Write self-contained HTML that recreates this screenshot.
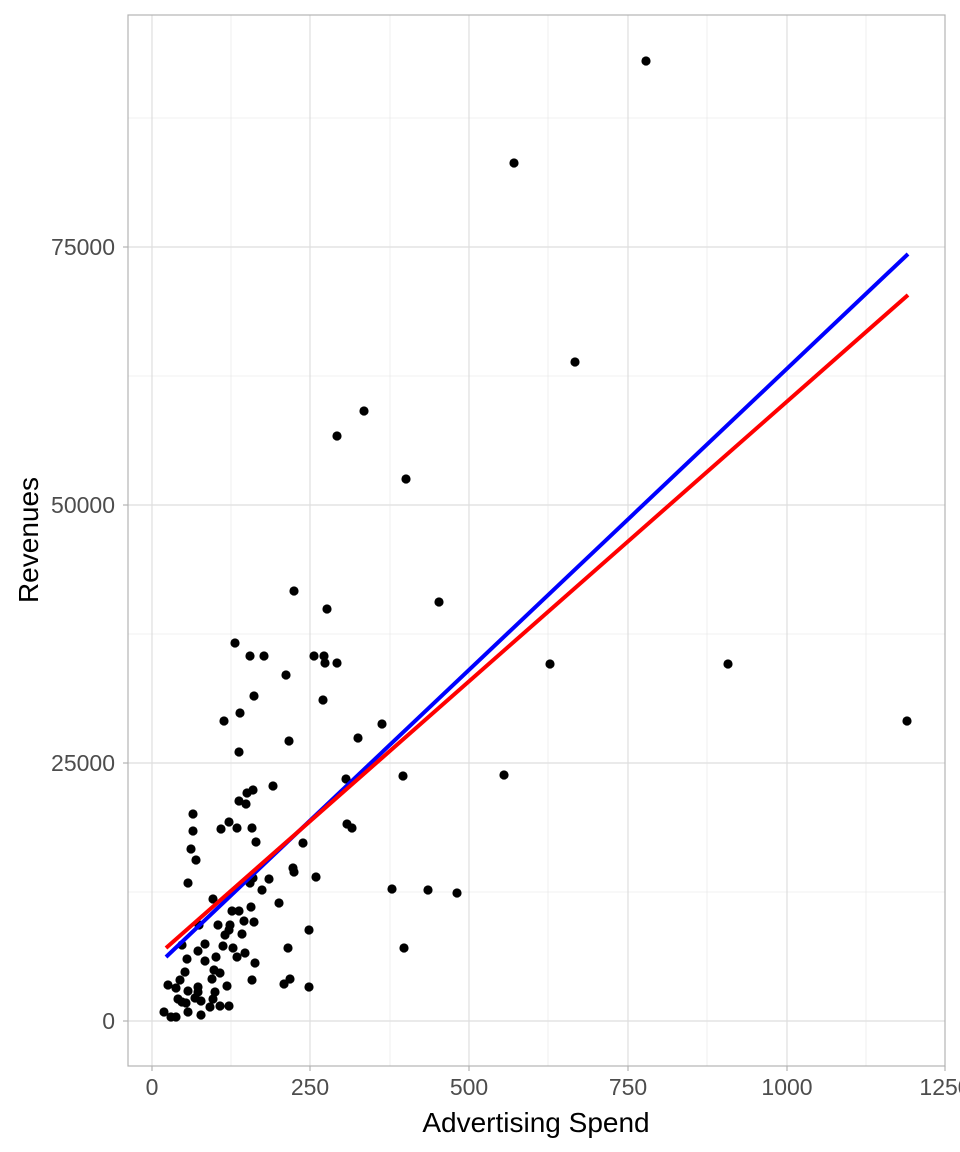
<!DOCTYPE html>
<html><head><style>body{margin:0;background:#fff}svg{display:block}</style></head><body>
<svg width="960" height="1152" xmlns="http://www.w3.org/2000/svg" font-family="Liberation Sans, sans-serif">
<g stroke="#ebebeb" stroke-width="0.8">
<line x1="231" y1="15" x2="231" y2="1066"/><line x1="390" y1="15" x2="390" y2="1066"/><line x1="548" y1="15" x2="548" y2="1066"/><line x1="707" y1="15" x2="707" y2="1066"/><line x1="866" y1="15" x2="866" y2="1066"/>
<line x1="128" y1="892" x2="945" y2="892"/><line x1="128" y1="634" x2="945" y2="634"/><line x1="128" y1="376" x2="945" y2="376"/><line x1="128" y1="118" x2="945" y2="118"/>
</g>
<g stroke="#dedede" stroke-width="1.2">
<line x1="152" y1="15" x2="152" y2="1066"/><line x1="310" y1="15" x2="310" y2="1066"/><line x1="469" y1="15" x2="469" y2="1066"/><line x1="628" y1="15" x2="628" y2="1066"/><line x1="787" y1="15" x2="787" y2="1066"/>
<line x1="128" y1="1021" x2="945" y2="1021"/><line x1="128" y1="763" x2="945" y2="763"/><line x1="128" y1="505" x2="945" y2="505"/><line x1="128" y1="247" x2="945" y2="247"/>
</g>
<rect x="128" y="15" width="817" height="1051" fill="none" stroke="#b3b3b3" stroke-width="1.2"/>
<g stroke="#b3b3b3" stroke-width="1.2">
<line x1="152" y1="1066" x2="152" y2="1071"/><line x1="310" y1="1066" x2="310" y2="1071"/><line x1="469" y1="1066" x2="469" y2="1071"/><line x1="628" y1="1066" x2="628" y2="1071"/><line x1="787" y1="1066" x2="787" y2="1071"/><line x1="945" y1="1066" x2="945" y2="1071"/>
<line x1="123" y1="1021" x2="128" y2="1021"/><line x1="123" y1="763" x2="128" y2="763"/><line x1="123" y1="505" x2="128" y2="505"/><line x1="123" y1="247" x2="128" y2="247"/>
</g>
<g fill="#000">
<circle cx="646" cy="61" r="4.6"/><circle cx="514" cy="163" r="4.6"/><circle cx="575" cy="362" r="4.6"/><circle cx="364" cy="411" r="4.6"/><circle cx="337" cy="436" r="4.6"/><circle cx="406" cy="479" r="4.6"/><circle cx="439" cy="602" r="4.6"/><circle cx="327" cy="609" r="4.6"/><circle cx="294" cy="591" r="4.6"/><circle cx="550" cy="664" r="4.6"/><circle cx="728" cy="664" r="4.6"/><circle cx="907" cy="721" r="4.6"/><circle cx="504" cy="775" r="4.6"/><circle cx="403" cy="776" r="4.6"/><circle cx="382" cy="724" r="4.6"/><circle cx="392" cy="889" r="4.6"/><circle cx="428" cy="890" r="4.6"/><circle cx="457" cy="893" r="4.6"/><circle cx="404" cy="948" r="4.6"/><circle cx="337" cy="663" r="4.6"/>
<circle cx="235" cy="643" r="4.6"/><circle cx="250" cy="656" r="4.6"/><circle cx="264" cy="656" r="4.6"/><circle cx="314" cy="656" r="4.6"/><circle cx="324" cy="656" r="4.6"/><circle cx="325" cy="663" r="4.6"/><circle cx="286" cy="675" r="4.6"/><circle cx="254" cy="696" r="4.6"/><circle cx="323" cy="700" r="4.6"/><circle cx="240" cy="713" r="4.6"/><circle cx="224" cy="721" r="4.6"/><circle cx="289" cy="741" r="4.6"/><circle cx="358" cy="738" r="4.6"/><circle cx="239" cy="752" r="4.6"/><circle cx="273" cy="786" r="4.6"/><circle cx="253" cy="790" r="4.6"/><circle cx="247" cy="793" r="4.6"/><circle cx="239" cy="801" r="4.6"/><circle cx="246" cy="804" r="4.6"/><circle cx="193" cy="814" r="4.6"/><circle cx="229" cy="822" r="4.6"/><circle cx="221" cy="829" r="4.6"/><circle cx="237" cy="828" r="4.6"/><circle cx="252" cy="828" r="4.6"/><circle cx="193" cy="831" r="4.6"/><circle cx="256" cy="842" r="4.6"/><circle cx="191" cy="849" r="4.6"/><circle cx="303" cy="843" r="4.6"/><circle cx="196" cy="860" r="4.6"/><circle cx="293" cy="868" r="4.6"/><circle cx="294" cy="872" r="4.6"/><circle cx="269" cy="879" r="4.6"/><circle cx="253" cy="878" r="4.6"/><circle cx="250" cy="883" r="4.6"/><circle cx="188" cy="883" r="4.6"/><circle cx="316" cy="877" r="4.6"/><circle cx="262" cy="890" r="4.6"/><circle cx="347" cy="824" r="4.6"/><circle cx="352" cy="828" r="4.6"/><circle cx="346" cy="779" r="4.6"/><circle cx="213" cy="899" r="4.6"/><circle cx="279" cy="903" r="4.6"/><circle cx="251" cy="907" r="4.6"/><circle cx="232" cy="911" r="4.6"/><circle cx="239" cy="911" r="4.6"/><circle cx="244" cy="921" r="4.6"/><circle cx="254" cy="922" r="4.6"/><circle cx="218" cy="925" r="4.6"/><circle cx="230" cy="925" r="4.6"/><circle cx="199" cy="925" r="4.6"/><circle cx="229" cy="930" r="4.6"/><circle cx="225" cy="935" r="4.6"/><circle cx="242" cy="934" r="4.6"/><circle cx="309" cy="930" r="4.6"/><circle cx="182" cy="945" r="4.6"/><circle cx="205" cy="944" r="4.6"/><circle cx="198" cy="951" r="4.6"/><circle cx="223" cy="946" r="4.6"/><circle cx="233" cy="948" r="4.6"/><circle cx="288" cy="948" r="4.6"/><circle cx="245" cy="953" r="4.6"/><circle cx="237" cy="957" r="4.6"/><circle cx="187" cy="959" r="4.6"/><circle cx="216" cy="957" r="4.6"/><circle cx="205" cy="961" r="4.6"/><circle cx="255" cy="963" r="4.6"/><circle cx="185" cy="972" r="4.6"/><circle cx="214" cy="970" r="4.6"/><circle cx="220" cy="973" r="4.6"/><circle cx="180" cy="980" r="4.6"/><circle cx="212" cy="979" r="4.6"/><circle cx="252" cy="980" r="4.6"/><circle cx="290" cy="979" r="4.6"/><circle cx="284" cy="984" r="4.6"/><circle cx="168" cy="985" r="4.6"/><circle cx="176" cy="988" r="4.6"/><circle cx="198" cy="987" r="4.6"/><circle cx="227" cy="986" r="4.6"/><circle cx="309" cy="987" r="4.6"/><circle cx="188" cy="991" r="4.6"/><circle cx="198" cy="992" r="4.6"/><circle cx="215" cy="992" r="4.6"/><circle cx="178" cy="999" r="4.6"/><circle cx="195" cy="998" r="4.6"/><circle cx="201" cy="1001" r="4.6"/><circle cx="213" cy="999" r="4.6"/><circle cx="186" cy="1003" r="4.6"/><circle cx="210" cy="1007" r="4.6"/><circle cx="220" cy="1006" r="4.6"/><circle cx="229" cy="1006" r="4.6"/><circle cx="182" cy="1002" r="4.6"/><circle cx="188" cy="1012" r="4.6"/><circle cx="201" cy="1015" r="4.6"/><circle cx="164" cy="1012" r="4.6"/><circle cx="171" cy="1017" r="4.6"/><circle cx="176" cy="1017" r="4.6"/>
</g>
<line x1="166" y1="957" x2="908" y2="254" stroke="#0000ff" stroke-width="4"/>
<line x1="166" y1="948" x2="908" y2="295" stroke="#ff0000" stroke-width="4"/>
<g fill="#4d4d4d" font-size="23" text-anchor="end">
<text x="115" y="1029">0</text><text x="115" y="771">25000</text><text x="115" y="513">50000</text><text x="115" y="255">75000</text>
</g>
<g fill="#4d4d4d" font-size="23" text-anchor="middle">
<text x="152" y="1095">0</text><text x="310" y="1095">250</text><text x="469" y="1095">500</text><text x="628" y="1095">750</text><text x="787" y="1095">1000</text><text x="945" y="1095">1250</text>
</g>
<text x="536" y="1132" font-size="28" text-anchor="middle" fill="#000">Advertising Spend</text>
<text transform="translate(38,540) rotate(-90)" font-size="28" text-anchor="middle" fill="#000">Revenues</text>
</svg>
</body></html>
